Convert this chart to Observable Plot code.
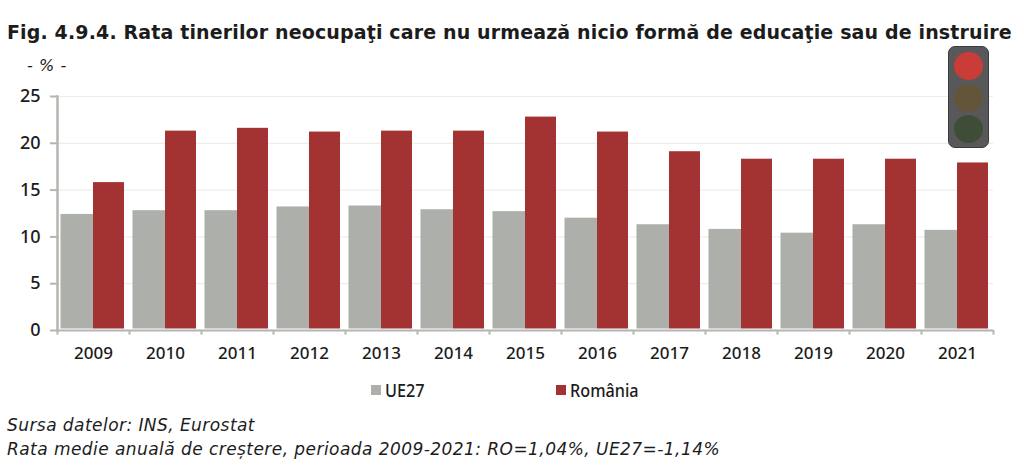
<!DOCTYPE html>
<html lang="ro">
<head>
<meta charset="utf-8">
<script src="https://cdn.jsdelivr.net/npm/d3@7"></script>
<script src="https://cdn.jsdelivr.net/npm/@observablehq/plot@0.6"></script>
<style>
html,body{margin:0;padding:0;background:#fff;overflow:hidden}
#page{position:relative;width:1024px;height:470px;color:#1c1c1c}
#page>*{position:absolute;white-space:nowrap}
#title{left:7px;top:20px;font:bold 19px/24px "DejaVu Sans";letter-spacing:.14px}
#unit{left:27px;top:56px;font:italic 16px/20px "DejaVu Sans";letter-spacing:.6px}
#chart{left:0;top:80px}
.sw{width:10px;height:10px}
.lg{font:500 18px/20px "Noto Sans",sans-serif;transform-origin:0 50%;transform:scaleX(.9)}
.foot{left:7px;font:italic 17px/22px "DejaVu Sans";letter-spacing:.44px}
#light{left:948px;top:46px;width:39px;height:100px;background:#58585a;border:1px solid #3c3c3c;border-radius:7px}
#light i{position:absolute;left:5px;width:29px;height:28px;border-radius:50%}
</style>
</head>
<body>
<div id="page">
  <div id="title">Fig. 4.9.4. Rata tinerilor neocupaţi care nu urmează nicio formă de educaţie sau de instruire</div>
  <div id="unit">- % -</div>
  <div id="chart"></div>
  <div id="light"><i style="top:5px;background:#c93c37"></i><i style="top:37px;background:#63553a"></i><i style="top:68px;background:#3f4d37"></i></div>
  <div class="sw" style="left:371px;top:385px;background:#adafab"></div>
  <div class="lg" style="left:385px;top:380px">UE27</div>
  <div class="sw" style="left:556px;top:385px;background:#a33232"></div>
  <div class="lg" style="left:570px;top:380px">România</div>
  <div class="foot" style="top:414px">Sursa datelor: INS, Eurostat</div>
  <div class="foot" style="top:438px">Rata medie anuală de creștere, perioada 2009-2021: RO=1,04%, UE27=-1,14%</div>
</div>
<script>
const years = [2009,2010,2011,2012,2013,2014,2015,2016,2017,2018,2019,2020,2021];
const ue27 = [12.4,12.8,12.8,13.2,13.3,12.9,12.7,12.0,11.3,10.8,10.4,11.3,10.7];
const romania = [15.8,21.3,21.6,21.2,21.3,21.3,22.8,21.2,19.1,18.3,18.3,18.3,17.9];
const yTicks = [0,5,10,15,20,25];
const axisColor = "#b4b6b0";
const idx = years.map((_, i) => i);

const chart = Plot.plot({
  width: 1024, height: 290,
  marginLeft: 57, marginRight: 31, marginTop: 16, marginBottom: 40,
  style: {background: "transparent", overflow: "visible"},
  x: {type: "band", domain: years, padding: 0, label: null},
  y: {type: "linear", domain: [0, 25], label: null},
  marks: [
    Plot.ruleY(yTicks, {stroke: "#eeeee8", strokeWidth: 1.2}),
    Plot.barY(idx, {x: i => years[i], y: i => ue27[i], fill: "#adafab", insetLeft: 3.5, insetRight: 36, insetBottom: 1.5}),
    Plot.barY(idx, {x: i => years[i], y: i => romania[i], fill: "#a33232", insetLeft: 36, insetRight: 5, insetBottom: 1.5}),
    Plot.ruleY([0], {stroke: axisColor, strokeWidth: 2}),
    Plot.frame({anchor: "left", stroke: axisColor, strokeWidth: 2.5}),
    Plot.ruleX(years, {x: d => d, dx: -36, y1: 0, y2: -0.5, stroke: axisColor, strokeWidth: 2}),
    Plot.ruleX(years.slice(-1), {x: d => d, dx: 36, y1: 0, y2: -0.5, stroke: axisColor, strokeWidth: 2}),
    Plot.axisX({ticks: years, tickSize: 0, tickPadding: 16, tickFormat: d => String(d), fontSize: 17, fontFamily: "'Noto Sans',sans-serif", fontWeight: 500, fill: "#1c1c1c", label: null}),
    Plot.axisY({ticks: yTicks, tickSize: 7, tickPadding: 10, stroke: axisColor, strokeWidth: 2, fontSize: 18, fontFamily: "'Noto Sans',sans-serif", fontWeight: 500, fill: "#1c1c1c", label: null})
  ]
});
document.getElementById("chart").appendChild(chart);
</script>
</body>
</html>
